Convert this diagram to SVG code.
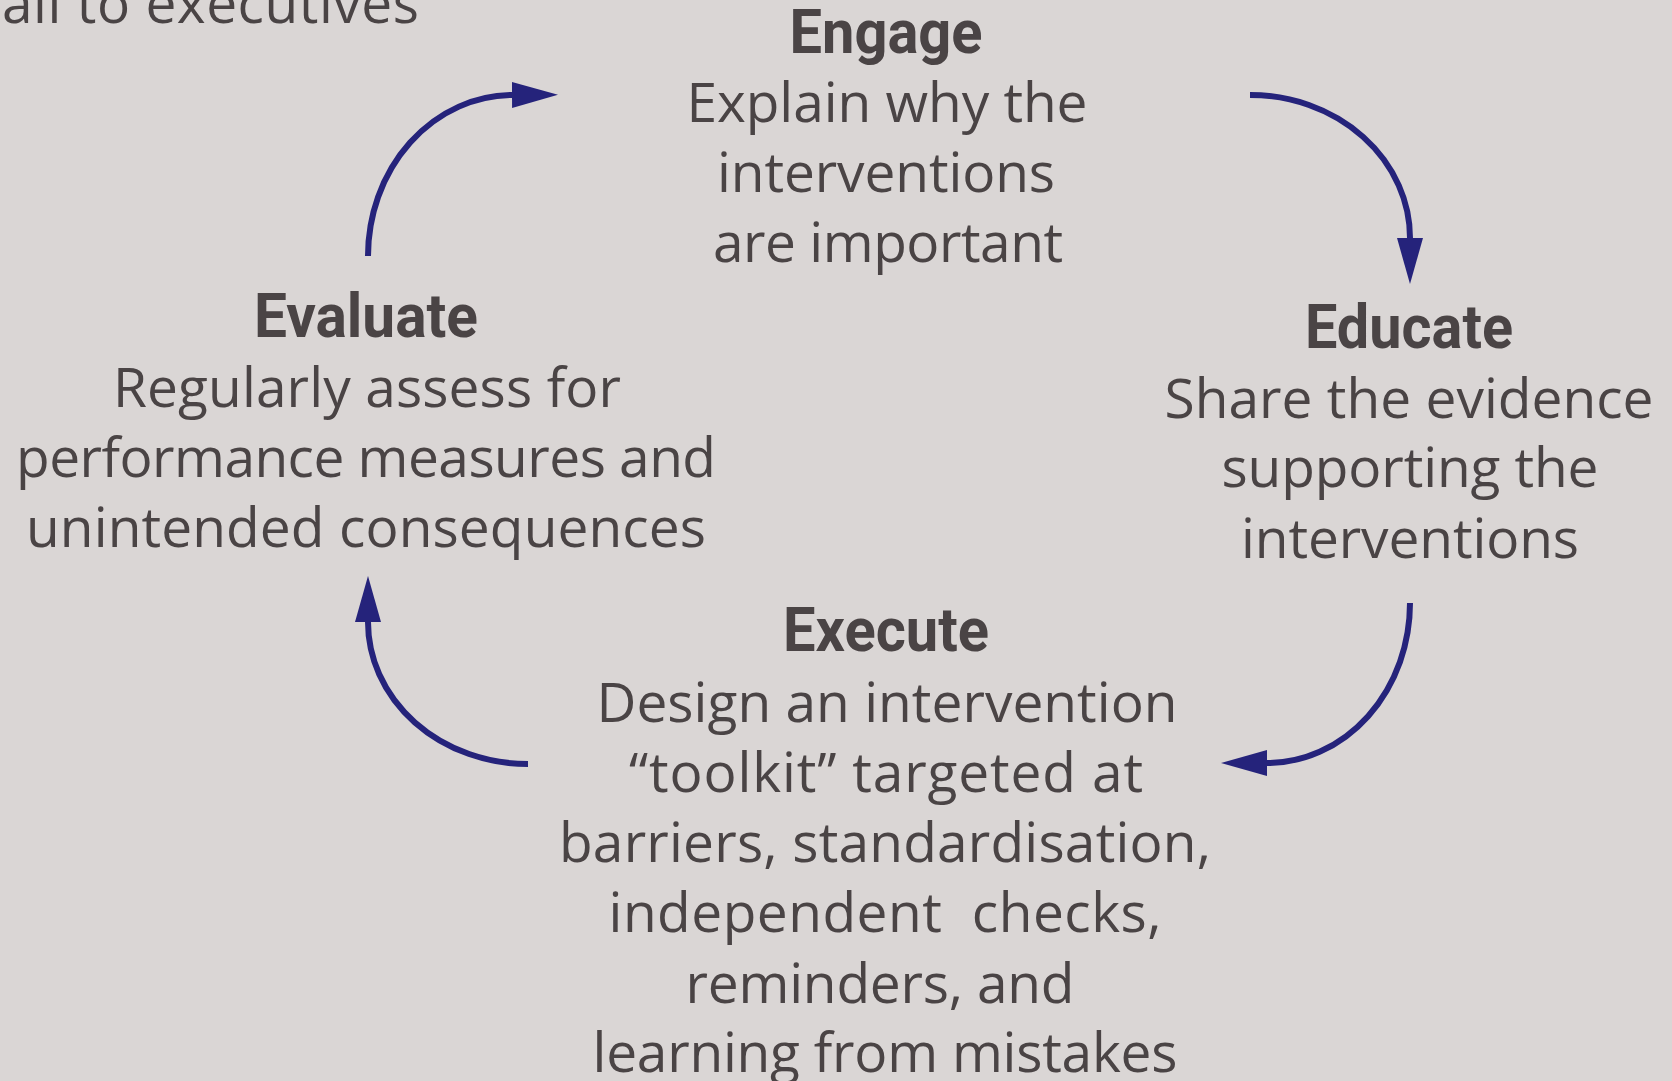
<svg xmlns="http://www.w3.org/2000/svg" width="1672" height="1081" viewBox="0 0 1672 1081">
  <defs>
    <style>
      .bg { fill: #dad6d5; }
      .head { font-family: Roboto, "Liberation Sans", Arial, sans-serif; font-weight: 700; font-size: 61px; fill: #4a4445; text-anchor: middle; }
      .body { font-family: "Open Sans", "Noto Sans", "Liberation Sans", sans-serif; font-weight: 400; font-size: 55px; fill: #4a4445; text-anchor: middle; }
      .lead { font-family: "Open Sans", "Noto Sans", "Liberation Sans", sans-serif; font-weight: 400; font-size: 55px; fill: #4a4445; }
      .pre { white-space: pre; }
      .arc { fill: none; stroke: #25237b; stroke-width: 6; stroke-linecap: butt; }
    </style>
    <marker id="tip" markerUnits="userSpaceOnUse" viewBox="0 -14 46 28" markerWidth="46" markerHeight="28" refX="0" refY="0" orient="auto">
      <path d="M0,-13 L46,0 L0,13 Z" fill="#25237b"/>
    </marker>
  </defs>

  <rect class="bg" x="0" y="0" width="1672" height="1081"/>

  <!-- text continuing from the previous panel, clipped at the top edge -->
  <text class="lead" x="2" y="23" textLength="417" lengthAdjust="spacing">all to executives</text>

  <!-- cycle connectors -->
  <g id="connectors">
    <path class="arc" d="M368,256 A145,161 0 0 1 512,95" marker-end="url(#tip)"/>
    <path class="arc" d="M1250,95 A160,143 0 0 1 1410,238" marker-end="url(#tip)"/>
    <path class="arc" d="M1410,603 A143,160 0 0 1 1267,763" marker-end="url(#tip)"/>
    <path class="arc" d="M528,764 A160,142 0 0 1 368,622" marker-end="url(#tip)"/>
  </g>

  <g id="engage">
    <text class="head" x="886" y="53" textLength="193" lengthAdjust="spacingAndGlyphs">Engage</text>
    <text class="body" x="887" y="122" textLength="401" lengthAdjust="spacing">Explain why the</text>
    <text class="body" x="886" y="192" textLength="338" lengthAdjust="spacing">interventions</text>
    <text class="body" x="888" y="262" textLength="350" lengthAdjust="spacing">are important</text>
  </g>

  <g id="educate">
    <text class="head" x="1409" y="348" textLength="208" lengthAdjust="spacingAndGlyphs">Educate</text>
    <text class="body" x="1409" y="418" textLength="489" lengthAdjust="spacing">Share the evidence</text>
    <text class="body" x="1410" y="487" textLength="377" lengthAdjust="spacing">supporting the</text>
    <text class="body" x="1410" y="558" textLength="338" lengthAdjust="spacing">interventions</text>
  </g>

  <g id="execute">
    <text class="head" x="886" y="651" textLength="206" lengthAdjust="spacingAndGlyphs">Execute</text>
    <text class="body" x="887" y="722" textLength="581" lengthAdjust="spacing">Design an intervention</text>
    <text class="body" x="886" y="792" textLength="514" lengthAdjust="spacing">“toolkit” targeted at</text>
    <text class="body" x="885" y="862" textLength="652" lengthAdjust="spacing">barriers, standardisation,</text>
    <text class="body pre" x="885" y="932" textLength="553" lengthAdjust="spacing">independent  checks,</text>
    <text class="body" x="880" y="1003" textLength="389" lengthAdjust="spacing">reminders, and</text>
    <text class="body" x="885" y="1072" textLength="585" lengthAdjust="spacing">learning from mistakes</text>
  </g>

  <g id="evaluate">
    <text class="head" x="366" y="337" textLength="224" lengthAdjust="spacingAndGlyphs">Evaluate</text>
    <text class="body" x="367" y="407" textLength="508" lengthAdjust="spacing">Regularly assess for</text>
    <text class="body" x="366" y="477" textLength="700" lengthAdjust="spacing">performance measures and</text>
    <text class="body" x="366" y="547" textLength="680" lengthAdjust="spacing">unintended consequences</text>
  </g>
</svg>
